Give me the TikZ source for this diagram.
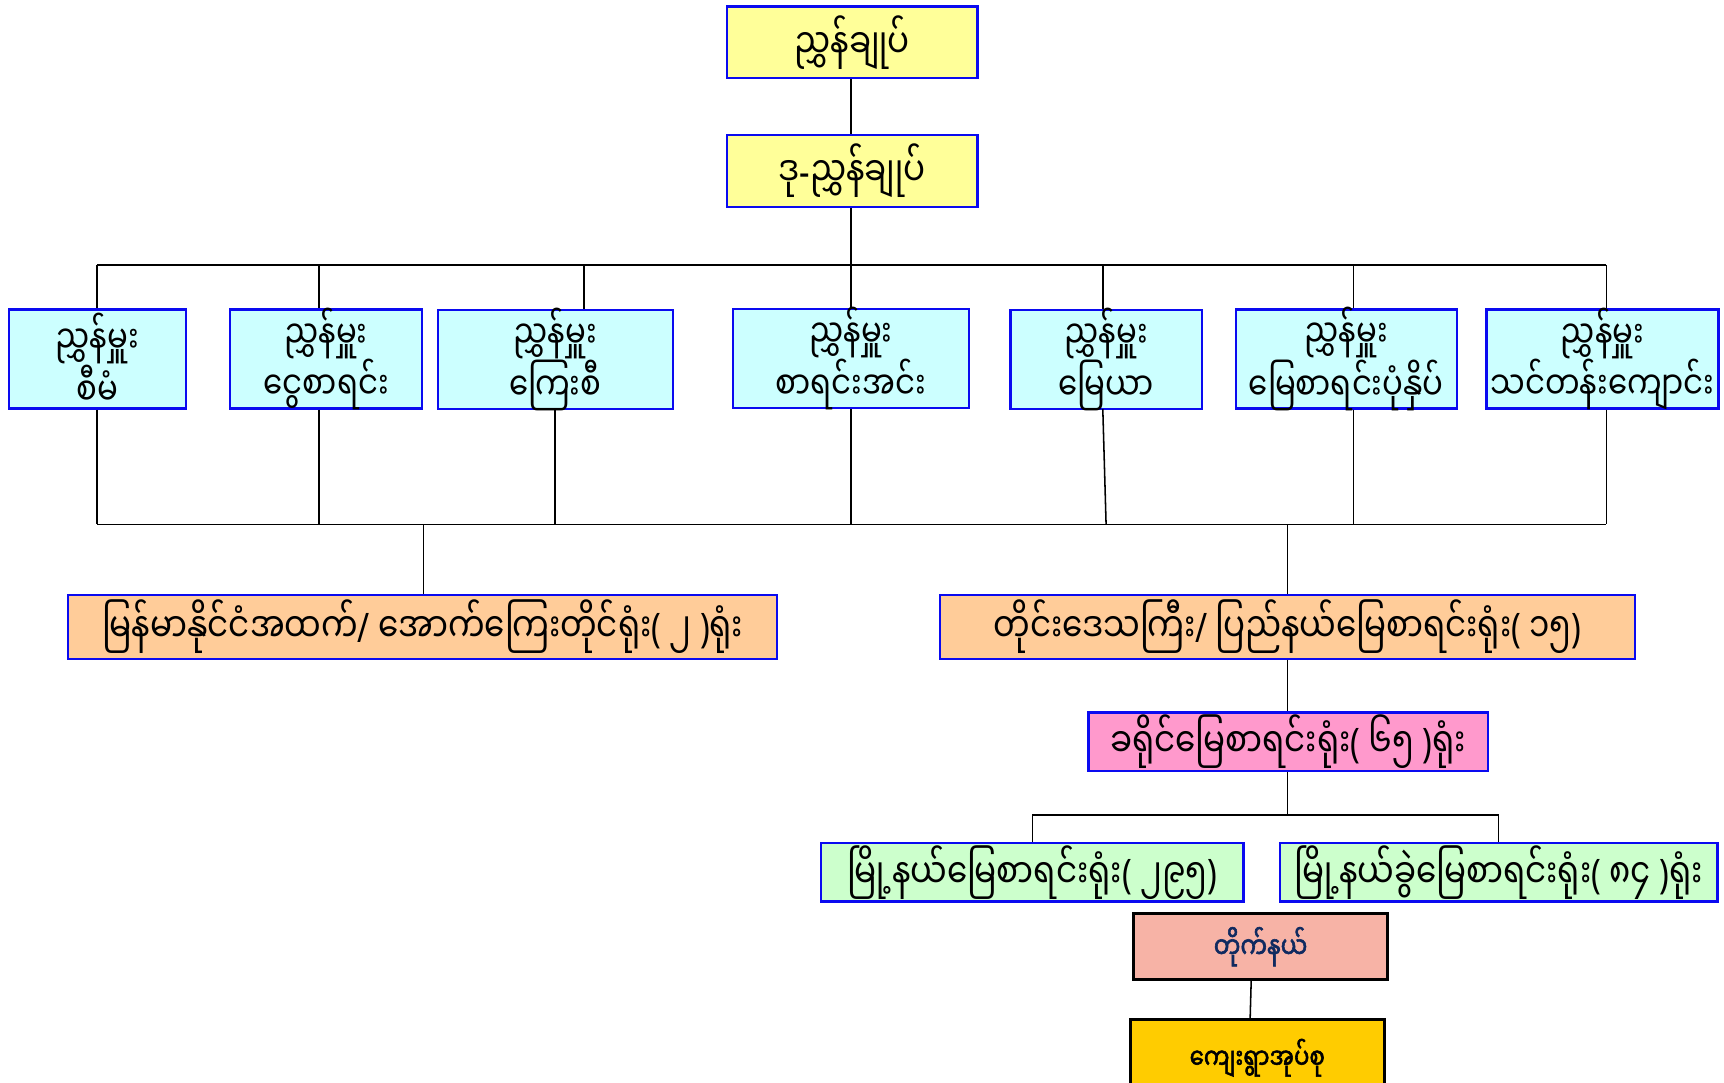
\documentclass[tikz,border=0pt]{standalone}
\usepackage{fontspec}
\newfontfamily\mm[Script=Myanmar,FakeStretch=0.8]{Noto Sans Myanmar UI}
\newfontfamily\mmb[Script=Myanmar,FakeStretch=0.8,FakeBold=2]{Noto Sans Myanmar UI}
\newfontfamily\lat[FakeStretch=0.8]{Noto Sans}
\newcommand{\LP}{{\lat(}}
\newcommand{\RP}{{\lat)}}
\newcommand{\SL}{{\lat/}}
\newcommand{\HY}{{\lat-}}
\definecolor{bord}{HTML}{0A0AF0}
\definecolor{cyel}{HTML}{FFFF99}
\definecolor{ccya}{HTML}{CCFFFF}
\definecolor{cpea}{HTML}{FFCC99}
\definecolor{cpin}{HTML}{FF99CC}
\definecolor{cgre}{HTML}{CCFFCC}
\definecolor{csal}{HTML}{F7B3A6}
\definecolor{cgol}{HTML}{FFCC00}
\definecolor{cnav}{HTML}{0F2A60}
\begin{document}
\begin{tikzpicture}[x=1pt,y=-1pt,
  box/.style={draw=bord,line width=2pt,inner sep=0pt,align=center,font=\mm\fontsize{37}{40}\selectfont},
  dbox/.style={box,fill=ccya,minimum height=90pt,inner ysep=-6pt,font=\mm\fontsize{35}{28}\selectfont},
  bbox/.style={draw=black,line width=2.6pt,inner sep=0pt,align=center},
  wire/.style={draw=black,line width=1.4pt}]
\useasboundingbox (0,0) rectangle (1568,985);
\clip (0,0) rectangle (1568,985);
\fill[white] (0,0) rectangle (1568,985);
% nodes
\node[box,fill=cyel,minimum width=228pt,minimum height=65pt] (top) at (775,38.5) {ညွှန်ချုပ်};
\node[box,fill=cyel,minimum width=228pt,minimum height=65pt] (dg) at (775,155.5) {ဒု\HY ညွှန်ချုပ်};
\node[dbox,minimum width=161pt] (d1) at (88.5,326.5) {ညွှန်မှူး\\စီမံ};
\node[dbox,minimum width=175pt] (d2) at (296.5,326.5) {ညွှန်မှူး\\ငွေစာရင်း};
\node[dbox,minimum width=214pt] (d3) at (505,327) {ညွှန်မှူး\\ကြေးစီ};
\node[dbox,minimum width=214pt] (d4) at (774,326) {ညွှန်မှူး\\စာရင်းအင်း};
\node[dbox,minimum width=174pt] (d5) at (1006,327) {ညွှန်မှူး\\မြေယာ};
\node[dbox,minimum width=201pt] (d6) at (1224.5,326.5) {ညွှန်မှူး\\မြေစာရင်းပုံနှိပ်};
\node[dbox,minimum width=211pt] (d7) at (1457.5,326.5) {ညွှန်မှူး\\သင်တန်းကျောင်း};
\node[box,fill=cpea,minimum width=645pt,minimum height=58pt] (A) at (384.5,570) {မြန်မာနိုင်ငံအထက်\SL\ အောက်ကြေးတိုင်ရုံး\LP\ ၂ \RP ရုံး};
\node[box,fill=cpea,minimum width=632pt,minimum height=58pt] (B) at (1171,570) {တိုင်းဒေသကြီး\SL\ ပြည်နယ်မြေစာရင်းရုံး\LP\ ၁၅\RP};
\node[box,fill=cpin,minimum width=363pt,minimum height=53pt] (P) at (1171.5,674.5) {ခရိုင်မြေစာရင်းရုံး\LP\ ၆၅ \RP ရုံး};
\node[box,fill=cgre,minimum width=384pt,minimum height=53pt] (G1) at (939,793.5) {မြို့နယ်မြေစာရင်းရုံး\LP\ ၂၉၅\RP};
\node[box,fill=cgre,minimum width=398pt,minimum height=53pt] (G2) at (1363,793.5) {မြို့နယ်ခွဲမြေစာရင်းရုံး\LP\ ၈၄ \RP ရုံး};
\node[bbox,fill=csal,minimum width=231pt,minimum height=60pt,text=cnav,font=\mmb\fontsize{27}{30}\selectfont] (T) at (1146.5,861) {တိုက်နယ်};
\node[bbox,fill=cgol,minimum width=231pt,minimum height=70pt,font=\mmb\fontsize{26}{30}\selectfont] (V) at (1143.5,962) {ကျေးရွာအုပ်စု};
% bus coordinates
\coordinate (ub) at (774,241);
\coordinate (ul) at (88,241);
\coordinate (ur) at (1461,241);
\coordinate (u3) at (531,241);
\coordinate (u5) at (1003,241);
\coordinate (u6) at (1231,241);
\coordinate (u2) at (290,241);
\coordinate (lb) at (88,477);
\coordinate (le) at (1461,477);
\coordinate (l2) at (290,477);
\coordinate (l3) at (505,477);
\coordinate (l4) at (774,477);
\coordinate (l5) at (1006,477);
\coordinate (l6) at (1231,477);
\coordinate (la) at (385,477);
\coordinate (lbb) at (1171,477);
\coordinate (gb) at (1171,741);
\coordinate (g1) at (939,741);
\coordinate (g2) at (1363,741);
\coordinate (d5b) at (1003,372);
\coordinate (tb) at (1138,891);
\coordinate (vt) at (1137,927);
% wires
\draw[wire] (ub |- top.south) -- (ub |- dg.north);
\draw[wire] (ub |- dg.south) -- (ub);
\draw[wire] (ul) -- (ur);
\draw[wire] (ul) -- (ul |- d1.north);
\draw[wire] (u2) -- (u2 |- d2.north);
\draw[wire] (u3) -- (u3 |- d3.north);
\draw[wire] (ub) -- (d4.north);
\draw[wire] (u5) -- (u5 |- d5.north);
\draw[wire] (u6) -- (u6 |- d6.north);
\draw[wire] (ur) -- (ur |- d7.north);
\draw[wire] (lb |- d1.south) -- (lb);
\draw[wire] (l2 |- d2.south) -- (l2);
\draw[wire] (d3.south) -- (l3);
\draw[wire] (d4.south) -- (l4);
\draw[wire] (d5b) -- (l5);
\draw[wire] (l6 |- d6.south) -- (l6);
\draw[wire] (le |- d7.south) -- (le);
\draw[wire] (lb) -- (le);
\draw[wire] (la) -- (la |- A.north);
\draw[wire] (lbb) -- (lbb |- B.north);
\draw[wire] (lbb |- B.south) -- (lbb |- P.north);
\draw[wire] (gb |- P.south) -- (gb);
\draw[wire] (g1) -- (g2);
\draw[wire] (g1) -- (G1.north);
\draw[wire] (g2) -- (G2.north);
\draw[wire] (tb) -- (vt);
\end{tikzpicture}
\end{document}
